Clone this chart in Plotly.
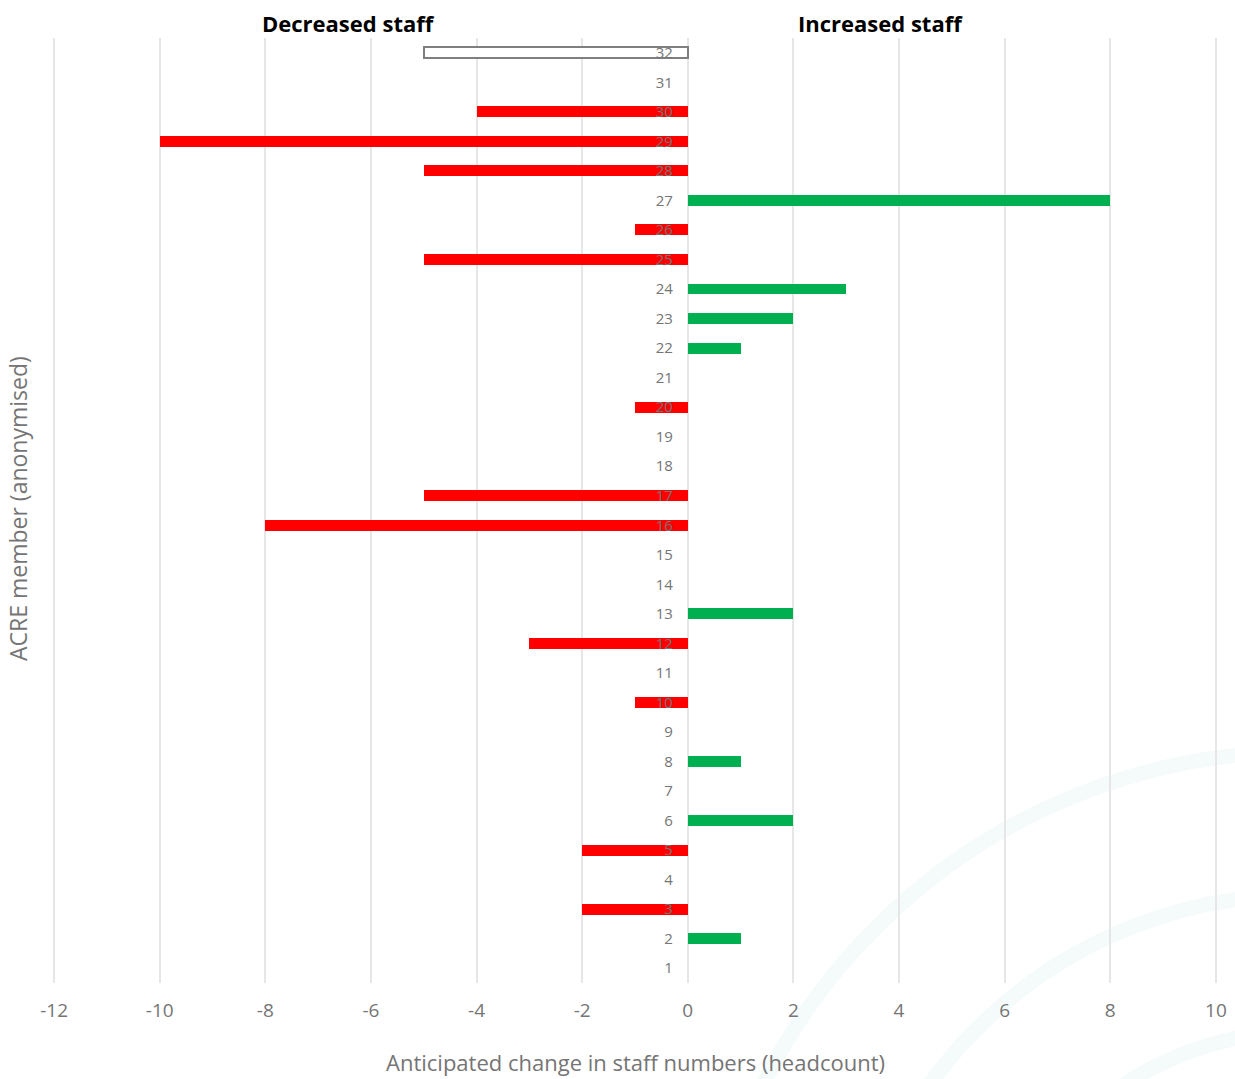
import plotly.graph_objects as go

members = list(range(1, 33))
change = [0, 1, -2, 0, -2, 2, 0, 1, 0, -1, 0, -3, 2, 0, 0, -8,
          -5, 0, 0, -1, 0, 1, 2, 3, -5, -1, 8, -5, -10, -4, 0, -5]
x_ticks = list(range(-12, 11, 2))

RED = "#FF0000"
GREEN = "#00B050"

fill = []
line_col = []
line_w = []
for m, v in zip(members, change):
    if m == 32:
        fill.append("#FFFFFF"); line_col.append("#7F7F7F"); line_w.append(2)
    elif v < 0:
        fill.append(RED); line_col.append(RED); line_w.append(0)
    else:
        fill.append(GREEN); line_col.append(GREEN); line_w.append(0)

fig = go.Figure()
fig.add_trace(go.Bar(
    x=change, y=members, orientation="h", width=0.37,
    marker=dict(color=fill, line=dict(color=line_col, width=line_w)),
    hoverinfo="x+y", showlegend=False,
))

W, H = 1235, 1079
L, R, T, B = 52, 17, 38, 96
xmin, xmax = -12.04, 10.04
pos0 = (0 - xmin) / (xmax - xmin)

pw = W - L - R
ph = H - T - B
def px(xp):
    return (xp - L) / pw
def py(yp):
    return 1 - (yp - T) / ph

grey = "#757575"
FONT = "'Open Sans', Lato, sans-serif"
fig.update_layout(
    width=W, height=H,
    margin=dict(l=L, r=R, t=T, b=B, pad=0, autoexpand=False),
    plot_bgcolor="rgba(0,0,0,0)", paper_bgcolor="white",
    font=dict(family=FONT, color=grey),
    bargap=0,
    xaxis=dict(
        range=[xmin, xmax], tickvals=x_ticks, ticktext=[str(t) for t in x_ticks],
        showgrid=True, gridcolor="#E6E6E6", gridwidth=2, zeroline=False,
        showline=False, ticks="outside", ticklen=10, tickcolor="rgba(0,0,0,0)",
        tickfont=dict(size=19, color=grey, family=FONT),
        domain=[0, 1], fixedrange=True, automargin=False,
    ),
    yaxis=dict(
        range=[0.5, 32.5], tickvals=members, ticktext=[str(m) for m in members],
        anchor="free", position=pos0, side="left",
        showgrid=False, zeroline=False, showline=False, ticks="",
        ticklabelstandoff=15,
        tickfont=dict(size=15, color=grey, family=FONT),
        fixedrange=True, automargin=False,
    ),
)

fig.add_annotation(text="Decreased staff", x=px(348), y=py(23), xref="paper", yref="paper",
                   xanchor="center", yanchor="middle", showarrow=False,
                   font=dict(size=22, color="black", family=FONT, weight="bold"))
fig.add_annotation(text="Increased staff", x=px(881), y=py(23), xref="paper", yref="paper",
                   xanchor="center", yanchor="middle", showarrow=False,
                   font=dict(size=22, color="black", family=FONT, weight="bold"))
fig.add_annotation(text="Anticipated change in staff numbers (headcount)",
                   x=px(635), y=py(1062), xref="paper", yref="paper",
                   xanchor="center", yanchor="middle", showarrow=False,
                   font=dict(size=22, color=grey, family=FONT))
fig.add_annotation(text="ACRE member (anonymised)", textangle=-90,
                   x=px(18), y=py(509), xref="paper", yref="paper",
                   xanchor="center", yanchor="middle", showarrow=False,
                   font=dict(size=23, color=grey, family=FONT))

# faint decorative concentric arcs in the bottom right background
for r in [600, 457, 320]:
    cx, cy = 1300, 1352
    fig.add_shape(type="circle", xref="paper", yref="paper", layer="below",
                  x0=px(cx - r), x1=px(cx + r), y0=py(cy + r), y1=py(cy - r),
                  line=dict(color="#F4FBFA", width=15))

fig.write_html("out.html")
